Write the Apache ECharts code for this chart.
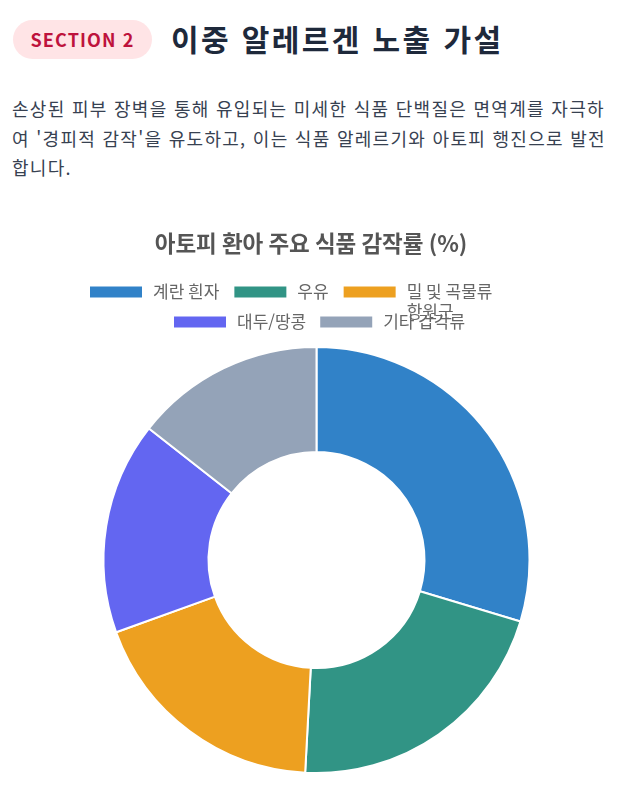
<!DOCTYPE html>
<html lang="ko">
<head>
<meta charset="utf-8">
<script src="https://cdn.jsdelivr.net/npm/echarts@6/dist/echarts.min.js"></script>
<style>
  html, body { margin: 0; padding: 0; background: #ffffff; }
  body { width: 622px; height: 794px; position: relative; overflow: hidden; font-family: "Noto Sans CJK KR", "Noto Sans", sans-serif; }
  .badge { position: absolute; left: 13px; top: 20px; width: 139px; height: 39px; border-radius: 20px; background: #ffe4e6; color: #be123c; font-weight: 700; font-size: 18px; line-height: 39px; text-align: center; letter-spacing: 1.1px; }
  .title { position: absolute; left: 171px; top: 14px; font-size: 30px; font-weight: 700; color: #1e293b; line-height: 48px; white-space: nowrap; letter-spacing: 2.4px; }
  .desc { position: absolute; left: 12px; top: 94px; font-size: 18px; color: #374151; line-height: 29.5px; white-space: nowrap; letter-spacing: 1.3px; }
  #chart { position: absolute; left: 0; top: 200px; width: 622px; height: 594px; }
</style>
</head>
<body>
<div class="badge">SECTION 2</div>
<div class="title">이중 알레르겐 노출 가설</div>
<div class="desc">손상된 피부 장벽을 통해 유입되는 미세한 식품 단백질은 면역계를 자극하<br>여 '경피적 감작'을 유도하고, 이는 식품 알레르기와 아토피 행진으로 발전<br>합니다.</div>
<div id="chart"></div>
<script>
const chartTitle = '아토피 환아 주요 식품 감작률 (%)';
const categories = ['계란 흰자', '우유', '밀 및 곡물류 항원군', '대두/땅콩', '기타 갑각류'];
const values = [35, 25, 22, 19, 17];
const colors = ['#3182c8', '#319485', '#eda020', '#6366f1', '#94a3b8'];

const chart = echarts.init(document.getElementById('chart'), null, { renderer: 'canvas' });
const font = '"Noto Sans CJK KR", "Noto Sans", sans-serif';

// long names wrap like the original legend: first line beside the box, rest below
function wrapName(n) {
  const i = n.lastIndexOf(' ');
  return n.length > 8 && i > 0 ? '\n' + n.slice(0, i) + '\n' + n.slice(i + 1) : n;
}
const legendBase = {
  orient: 'horizontal',
  icon: 'rect',
  itemWidth: 54,
  itemHeight: 13,
  padding: 0,
  selectedMode: false,
  formatter: wrapName,
  textStyle: { fontFamily: font, fontSize: 17, color: '#666', lineHeight: 20, padding: [0, 0, 0, 5] }
};

chart.setOption({
  animation: false,
  color: colors,
  title: {
    text: chartTitle,
    left: 'center',
    top: 27,
    textStyle: { fontFamily: font, fontSize: 22.5, fontWeight: 'bold', color: '#555' }
  },
  legend: [
    Object.assign({}, legendBase, { left: 88, top: 62, itemGap: 13, data: categories.slice(0, 3) }),
    Object.assign({}, legendBase, { left: 172, top: 112, itemGap: 12, data: categories.slice(3) })
  ],
  series: [{
    type: 'pie',
    center: [316.5, 360],
    radius: [108, 213],
    startAngle: 90,
    clockwise: true,
    label: { show: false },
    labelLine: { show: false },
    itemStyle: { borderColor: '#ffffff', borderWidth: 2 },
    emphasis: { disabled: true },
    data: categories.map((c, i) => ({ name: c, value: values[i] }))
  }]
});
</script>
</body>
</html>
